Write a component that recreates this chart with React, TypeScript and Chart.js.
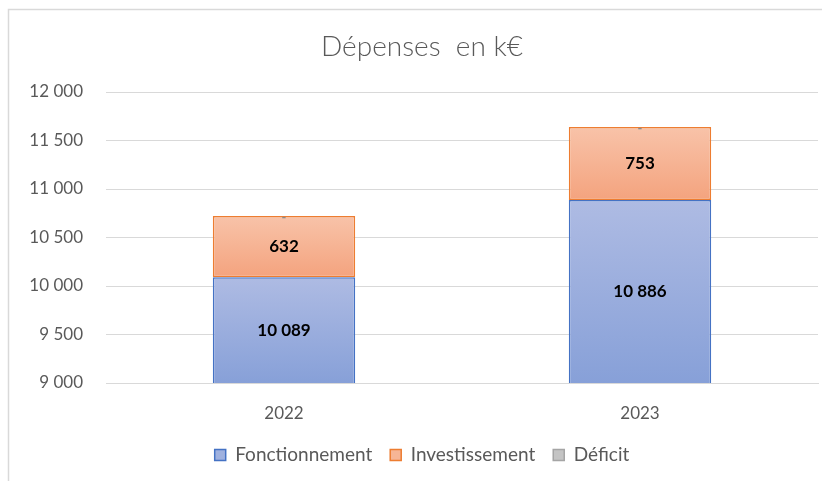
import { useEffect, useRef } from "react";
import { Chart, registerables } from "chart.js";

Chart.register(...registerables);

const categories = ["2022", "2023"];
const fonctionnement = [10089, 10886];
const investissement = [632, 753];
const deficit = [0, 0];
const seriesNames = ["Fonctionnement", "Investissement", "Déficit"];
const titleText = "Dépenses  en k€";
const yMin = 9000;
const yMax = 12000;
const yStep = 500;

const FONT = "Lato, 'Noto Sans', sans-serif";
const GREY_TEXT = "#595959";
const GRID = "#d9d9d9";
const CANVAS_W = 844;
const CANVAS_H = 481;

const palette = [
  { top: "#aebbe3", bottom: "#87a0d8", border: "#4472c4", legend: "#9fb1df" },
  { top: "#f8c3a9", bottom: "#f4a37e", border: "#ed7d31", legend: "#f6b596" },
  { top: "#d0d0d0", bottom: "#b5b5b5", border: "#a5a5a5", legend: "#c4c4c4" },
];

const fmt = (n: number) =>
  String(Math.round(n)).replace(/\B(?=(\d{3})+(?!\d))/g, " ");

function segmentBounds(dsIndex: number, i: number): [number, number] {
  if (dsIndex === 0) return [yMin, fonctionnement[i]];
  if (dsIndex === 1) return [fonctionnement[i], fonctionnement[i] + investissement[i]];
  const t = fonctionnement[i] + investissement[i];
  return [t, t + deficit[i]];
}

function gradientFill(dsIndex: number) {
  return (ctx: any) => {
    const chart = ctx.chart;
    const p = palette[dsIndex];
    if (!chart.chartArea || ctx.dataIndex == null || !chart.scales.y) return p.legend;
    const [lo, hi] = segmentBounds(dsIndex, ctx.dataIndex);
    const y = chart.scales.y;
    const yTop = y.getPixelForValue(hi);
    const yBot = y.getPixelForValue(lo);
    if (!isFinite(yTop) || !isFinite(yBot) || Math.abs(yBot - yTop) < 1) return p.legend;
    const g = chart.ctx.createLinearGradient(0, yTop, 0, yBot);
    g.addColorStop(0, p.top);
    g.addColorStop(1, p.bottom);
    return g;
  };
}

const framePlugin = {
  id: "frame",
  beforeDraw(chart: any) {
    const c = chart.ctx;
    c.save();
    c.strokeStyle = GRID;
    c.lineWidth = 1.5;
    c.beginPath();
    c.moveTo(8.5, chart.height);
    c.lineTo(8.5, 9.5);
    c.lineTo(chart.width, 9.5);
    c.stroke();
    c.restore();
  },
};

const labelsPlugin = {
  id: "barLabels",
  afterDatasetsDraw(chart: any) {
    const c = chart.ctx;
    const area = chart.chartArea;
    c.save();
    c.textAlign = "center";
    c.textBaseline = "middle";
    chart.data.datasets.forEach((ds: any, di: number) => {
      const meta = chart.getDatasetMeta(di);
      meta.data.forEach((el: any, i: number) => {
        const v = ds.data[i];
        if (di === 2) {
          c.fillStyle = "#8c8c8c";
          c.font = `bold 13px ${FONT}`;
          c.fillText("-", el.x, el.y + 2);
          return;
        }
        const top = Math.max(el.y, area.top);
        const bot = Math.min(el.base, area.bottom);
        c.fillStyle = "#000000";
        c.font = `bold 17px ${FONT}`;
        c.fillText(fmt(v), el.x, (top + bot) / 2);
      });
    });
    c.restore();
  },
};

export default function App() {
  const ref = useRef<HTMLCanvasElement | null>(null);

  useEffect(() => {
    if (!ref.current) return;
    const seriesData = [fonctionnement, investissement, deficit];
    const chart = new Chart(ref.current, {
      type: "bar",
      data: {
        labels: categories,
        datasets: seriesData.map((d, k) => ({
          label: seriesNames[k],
          data: d,
          backgroundColor: gradientFill(k),
          borderColor: palette[k].border,
          borderWidth: k === 2 ? 0 : 1.5,
          borderSkipped: false,
          categoryPercentage: 1,
          barPercentage: 0.4,
        })),
      },
      options: {
        responsive: false,
        animation: false,
        layout: { padding: { left: 0, right: 0, top: 0, bottom: 6.5 } },
        plugins: {
          tooltip: { enabled: false },
          title: {
            display: true,
            text: titleText,
            color: GREY_TEXT,
            font: { family: FONT, size: 28, weight: "300" as any, lineHeight: 1.2 },
            padding: { top: 30.2, bottom: 28.2 },
          },
          legend: {
            position: "bottom",
            labels: {
              color: GREY_TEXT,
              font: { family: FONT, size: 19 },
              boxWidth: 11,
              boxHeight: 11,
              padding: 18,
              generateLabels: () =>
                seriesNames.map((n, k) => ({
                  text: n,
                  fillStyle: palette[k].legend,
                  strokeStyle: palette[k].border,
                  lineWidth: 1.5,
                  hidden: false,
                  datasetIndex: k,
                  fontColor: GREY_TEXT,
                })),
            },
          },
        },
        scales: {
          x: {
            stacked: true,
            grid: { display: false, drawTicks: false },
            border: { display: true, color: GRID, width: 1 },
            ticks: { color: GREY_TEXT, font: { family: FONT, size: 17 }, padding: 20 },
            afterFit: (s: any) => {
              s.height = 44.5;
            },
          },
          y: {
            stacked: true,
            min: yMin,
            max: yMax,
            grid: { color: GRID, lineWidth: 1, drawTicks: false },
            border: { display: false },
            ticks: {
              stepSize: yStep,
              color: GREY_TEXT,
              font: { family: FONT, size: 17 },
              padding: 23,
              callback: (v: any) => fmt(Number(v)),
            },
            afterFit: (s: any) => {
              s.width = 106;
            },
          },
          spacer: {
            type: "linear",
            position: "right",
            min: 0,
            max: 1,
            display: true,
            grid: { display: false, drawTicks: false },
            border: { display: false },
            ticks: { display: false },
            afterFit: (s: any) => {
              s.width = CANVAS_W - 818;
            },
          },
        },
      },
      plugins: [framePlugin, labelsPlugin],
    });
    return () => chart.destroy();
  }, []);

  return (
    <div
      style={{
        position: "absolute",
        left: 0,
        top: 0,
        width: 822,
        height: CANVAS_H,
        overflow: "hidden",
        background: "#ffffff",
      }}
    >
      <canvas ref={ref} width={CANVAS_W} height={CANVAS_H} style={{ display: "block" }} />
    </div>
  );
}
